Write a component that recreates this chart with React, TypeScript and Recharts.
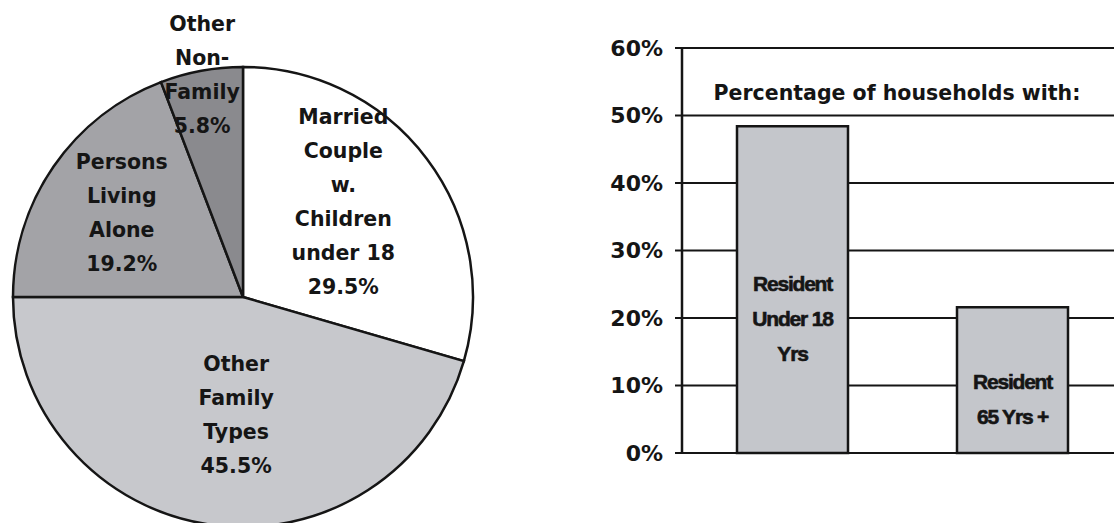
import { PieChart, Pie, Cell, BarChart, Bar, XAxis, YAxis, CartesianGrid, LabelList } from "recharts";

// household composition (left pie)
const pieCategories = ["Married Couple w. Children under 18", "Other Family Types", "Persons Living Alone", "Other Non-Family"];
const pieValues = [29.5, 45.5, 19.2, 5.8];
const pieLabelLines = [
  ["Married", "Couple", "w.", "Children", "under 18"],
  ["Other", "Family", "Types"],
  ["Persons", "Living", "Alone"],
  ["Other", "Non-", "Family"],
];

// households with residents of age group (right bars)
const barCategories = ["Resident Under 18 Yrs", "Resident 65 Yrs +"];
const barValues = [48.4, 21.6];
const barLabelLines = [
  ["Resident", "Under 18", "Yrs"],
  ["Resident", "65 Yrs +"],
];
const yTicks = [0, 10, 20, 30, 40, 50, 60];

const PIE_COLORS = ["#ffffff", "#c7c8cc", "#a3a3a7", "#8a8a8e"];
const INK = "#151515";
const FONT = "'DejaVu Sans', sans-serif";
const RAD = Math.PI / 180;
const LINE_H = 34;

// label placement: radius factor + small nudge per slice
const PIE_LABEL_LAYOUT = [
  { r: 0.6, dx: -10, dy: -12 },
  { r: 0.52, dx: 10, dy: 0 },
  { r: 0.64, dx: 0, dy: 0 },
  { r: 0.98, dx: 0, dy: 0 },
];
const BAR_LABEL_POS = [0.59, 0.63];

const pieData = pieCategories.map((name, i) => ({ name, value: pieValues[i] }));
const barData = barCategories.map((name, i) => ({ name, value: barValues[i] }));

function renderPieLabel(props: any) {
  const { cx, cy, midAngle, outerRadius, index, value } = props;
  const lay = PIE_LABEL_LAYOUT[index];
  const r = outerRadius * lay.r;
  const x = cx + r * Math.cos(-midAngle * RAD) + lay.dx;
  const y = cy + r * Math.sin(-midAngle * RAD) + lay.dy;
  const lines = [...pieLabelLines[index], `${value}%`];
  const top = y - ((lines.length - 1) * LINE_H) / 2 + 7;
  return (
    <text x={x} y={top} textAnchor="middle" fill={INK} fontFamily={FONT} fontWeight="bold" fontSize={20.5}>
      {lines.map((l, i) => (
        <tspan key={i} x={x} y={top + i * LINE_H}>
          {l}
        </tspan>
      ))}
    </text>
  );
}

function renderBarLabel(props: any) {
  const { x, y, width, height, index } = props;
  const lines = barLabelLines[index];
  const cx = x + width / 2;
  const mid = y + height * BAR_LABEL_POS[index];
  const top = mid - ((lines.length - 1) * 35) / 2 + 7;
  return (
    <text
      x={cx}
      y={top}
      textAnchor="middle"
      fill={INK}
      stroke={INK}
      strokeWidth={0.6}
      fontFamily="'Liberation Sans', sans-serif"
      fontWeight="bold"
      fontSize={21}
      letterSpacing={-1.2}
    >
      {lines.map((l, i) => (
        <tspan key={i} x={cx} y={top + i * 35}>
          {l}
        </tspan>
      ))}
    </text>
  );
}

export default function App() {
  return (
    <div
      style={{
        position: "absolute",
        left: 0,
        top: 0,
        width: 1114,
        height: 523,
        overflow: "hidden",
        background: "#fff",
      }}
    >
      <div style={{ position: "absolute", left: 0, top: 0 }}>
        <PieChart width={490} height={523} margin={{ top: 0, right: 0, bottom: 0, left: 0 }}>
          <Pie
            data={pieData}
            dataKey="value"
            nameKey="name"
            cx={243}
            cy={297}
            outerRadius={230}
            startAngle={90}
            endAngle={-270}
            stroke={INK}
            strokeWidth={2.5}
            label={renderPieLabel}
            labelLine={false}
            isAnimationActive={false}
          >
            {pieData.map((d, i) => (
              <Cell key={d.name} fill={PIE_COLORS[i]} />
            ))}
          </Pie>
        </PieChart>
      </div>

      <div style={{ position: "absolute", left: 602, top: 0 }}>
        <BarChart width={520} height={523} data={barData} margin={{ top: 48, right: 0, bottom: 70, left: 0 }}>
          <CartesianGrid vertical={false} stroke={INK} strokeWidth={2} />
          <XAxis dataKey="name" hide />
          <YAxis
            width={80}
            domain={[0, 60]}
            ticks={yTicks}
            interval={0}
            tickFormatter={(v) => `${v}%`}
            axisLine={{ stroke: INK, strokeWidth: 2.5 }}
            tickLine={{ stroke: INK, strokeWidth: 2 }}
            tickSize={7}
            tickMargin={12}
            tick={{ fill: INK, fontSize: 22, fontWeight: "bold", fontFamily: FONT }}
          />
          <Bar dataKey="value" barSize={111} fill="#c4c6cb" stroke={INK} strokeWidth={2.5} isAnimationActive={false}>
            <LabelList dataKey="value" content={renderBarLabel} />
          </Bar>
        </BarChart>
      </div>

      <div
        style={{
          position: "absolute",
          left: 682,
          top: 80,
          width: 430,
          textAlign: "center",
          fontFamily: FONT,
          fontWeight: "bold",
          fontSize: 20.5,
          lineHeight: "26px",
          color: INK,
        }}
      >
        Percentage of households with:
      </div>
    </div>
  );
}
